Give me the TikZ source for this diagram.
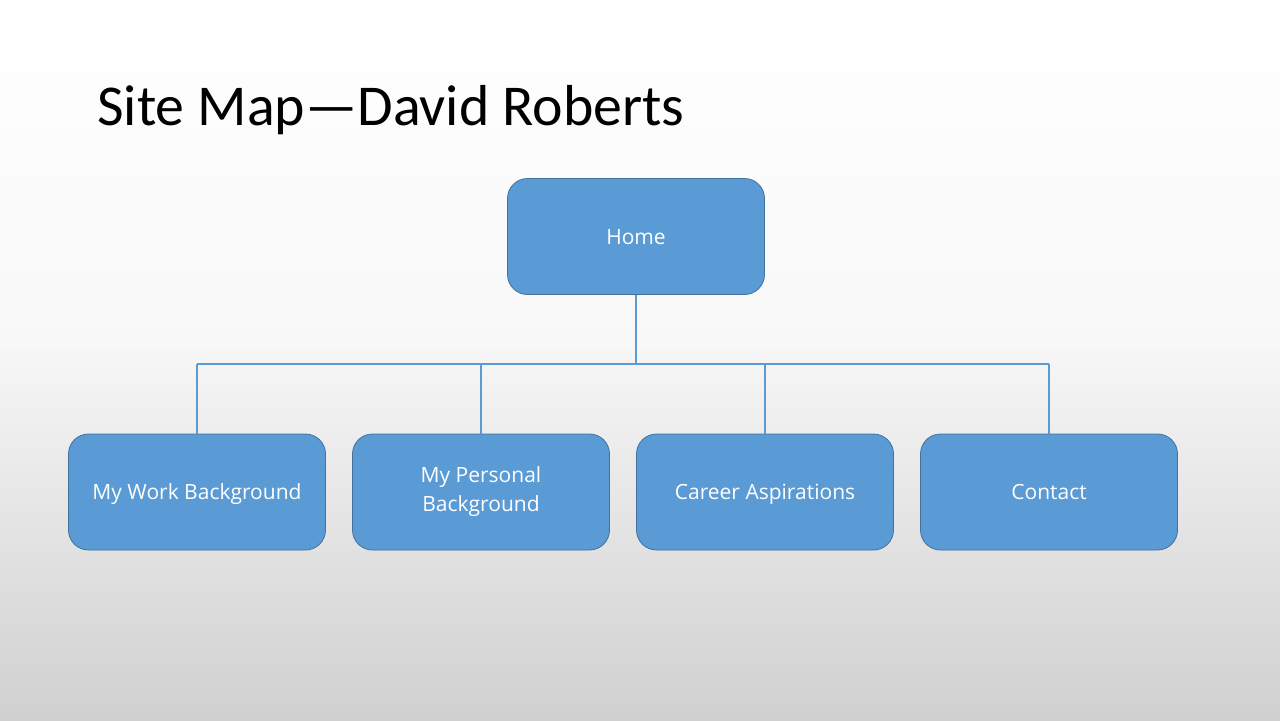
\documentclass[tikz,border=0pt]{standalone}
\usepackage{fontspec}
\setmainfont{Carlito}
\newfontfamily\boxfont{Open Sans}
\usepackage{tikz}
\usetikzlibrary{positioning, calc}

\definecolor{boxblue}{HTML}{5B9BD5}
\definecolor{boxline}{HTML}{41719C}
\definecolor{slidetop}{HTML}{F8F8F8}
\definecolor{slidemid}{HTML}{F6F6F6}
\definecolor{slidegray}{HTML}{D0D0D0}

\newcommand{\boxstrut}{\rule[-3.2pt]{0pt}{14.2pt}}

\tikzset{
    page/.style={draw=boxline, fill=boxblue, rounded corners=10pt, text=white,
        minimum width=128.5pt, minimum height=58pt, align=center,
        execute at begin node=\boxstrut,
        font=\boxfont\fontsize{10.5pt}{14.5pt}\selectfont},
    link/.style={draw=boxblue, line width=0.6pt}
}

\begin{document}
\begin{tikzpicture}[x=0.5pt, y=-0.5pt]
    % slide background
    \shade[top color=white, bottom color=slidetop] (0,0) rectangle (1280,350);
    \shade[top color=slidemid, bottom color=slidegray] (0,350) rectangle (1280,720);
    \useasboundingbox (0,0) rectangle (1280,720);

    \node[anchor=base west, inner sep=0pt, font=\fontsize{28.9pt}{36pt}\selectfont] (title)
        at (97,125) {Site Map—David Roberts};

    \node[page] (home) at (636,236.5) {Home};

    \foreach \name/\x/\label in {work/197/My Work Background,
        personal/481/{My Personal\\Background\boxstrut},
        career/765/Career Aspirations, contact/1049/Contact}
        \node[page] (\name) at (\x,492) {\label};

    % connectors
    \coordinate (bar) at (636,364);
    \draw[link] (home.south) -- (bar);
    \draw[link] (work.north |- bar) -- (contact.north |- bar);
    \foreach \name in {work, personal, career, contact}
        \draw[link] (\name.north |- bar) -- (\name.north);
\end{tikzpicture}
\end{document}
